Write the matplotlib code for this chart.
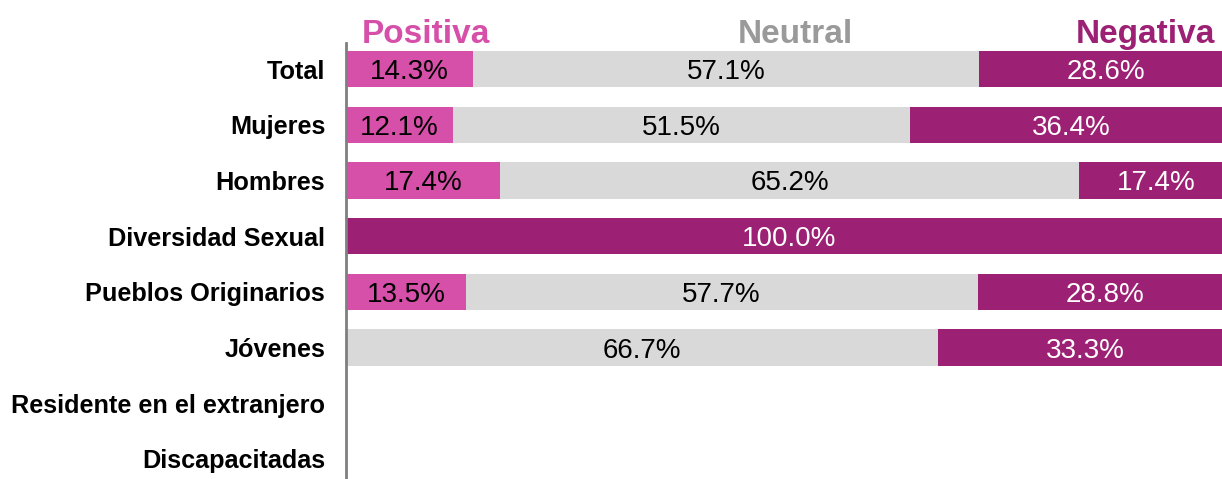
import numpy as np
import matplotlib.pyplot as plt

plt.rcParams['font.family'] = ['Liberation Sans', 'DejaVu Sans']

# Percepción por grupo (%)
grupos = ['Total', 'Mujeres', 'Hombres', 'Diversidad Sexual', 'Pueblos Originarios',
          'Jóvenes', 'Residente en el extranjero', 'Discapacitadas']
positiva = [14.3, 12.1, 17.4, 0, 13.5, 0, 0, 0]
neutral = [57.1, 51.5, 65.2, 0, 57.7, 66.7, 0, 0]
negativa = [28.6, 36.4, 17.4, 100.0, 28.8, 33.3, 0, 0]

c_pos = '#D64FA9'
c_neu = '#D9D9D9'
c_neg = '#9C2073'

fig = plt.figure(figsize=(12.22, 4.79), dpi=100)
ax = fig.add_axes([346 / 1222, 0, 1 - 346 / 1222, (479 - 43) / 479])

y = np.arange(len(grupos))
pos = np.array(positiva)
neu = np.array(neutral)
neg = np.array(negativa)
h = 0.65

ax.barh(y, pos, height=h, color=c_pos)
ax.barh(y, neu, left=pos, height=h, color=c_neu)
ax.barh(y, neg, left=pos + neu, height=h, color=c_neg)

for i in range(len(grupos)):
    if pos[i] > 0:
        ax.text(pos[i] / 2, y[i], f'{pos[i]:.1f}%', ha='center', va='center_baseline',
                fontsize=20, color='black')
    if neu[i] > 0:
        ax.text(pos[i] + neu[i] / 2, y[i], f'{neu[i]:.1f}%', ha='center',
                va='center_baseline', fontsize=20, color='black')
    if neg[i] > 0:
        ax.text(pos[i] + neu[i] + neg[i] / 2, y[i], f'{neg[i]:.1f}%', ha='center',
                va='center_baseline', fontsize=20, color='white')

ax.set_xlim(0, 875 / 886 * 100)
ax.set_ylim(7 + 20 / 55.7, -26 / 55.7)
ax.set_yticks(y)
ax.set_yticklabels(grupos, fontsize=18.2, fontweight='bold', va='center_baseline')
ax.tick_params(axis='y', length=0, pad=15)
ax.set_xticks([])
for s in ['top', 'right', 'bottom']:
    ax.spines[s].set_visible(False)
ax.spines['left'].set_color('#7F7F7F')
ax.spines['left'].set_linewidth(2)

# Encabezados de las categorías
yt = 1 - 31 / 479
fig.text(362 / 1222, yt, 'Positiva', color=c_pos, fontsize=24, fontweight='bold',
         ha='left', va='center_baseline')
fig.text(795 / 1222, yt, 'Neutral', color='#9A9A9A', fontsize=24, fontweight='bold',
         ha='center', va='center_baseline')
fig.text(1215 / 1222, yt, 'Negativa', color=c_neg, fontsize=24, fontweight='bold',
         ha='right', va='center_baseline')

fig.savefig('out.png', dpi=100)
